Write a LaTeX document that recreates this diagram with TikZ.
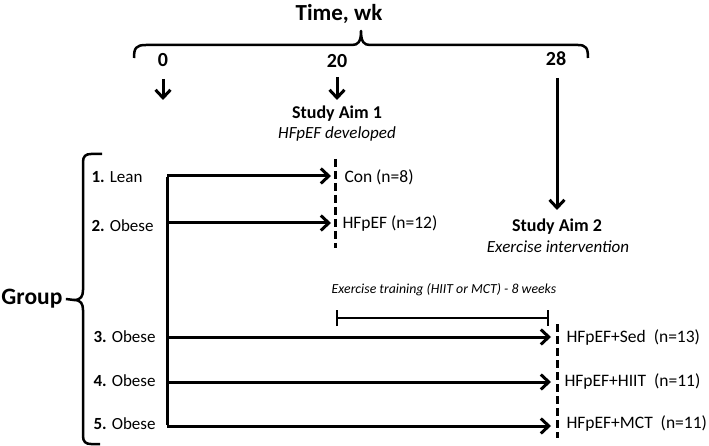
\documentclass[tikz,border=0pt]{standalone}
\usepackage{fontspec}
\setmainfont{Carlito}
\usetikzlibrary{arrows.meta}
\begin{document}
\begin{tikzpicture}[x=1pt,y=-1pt,
  line width=3pt,
  arr/.style={line width=3pt,-{Straight Barb[length=8pt,width=15pt,line width=3pt]}},
  lbl/.style={anchor=west,inner sep=0pt,font=\fontsize{17}{19}\selectfont},
  rlbl/.style={anchor=west,inner sep=0pt,font=\fontsize{17.5}{19}\selectfont},
  num/.style={inner sep=0pt,font=\bfseries\fontsize{20}{22}\selectfont},
  aim/.style={inner sep=0pt,font=\bfseries\fontsize{18}{20}\selectfont},
  aimi/.style={inner sep=0pt,font=\itshape\fontsize{17}{19}\selectfont},
  brace/.style={line width=2.5pt,line join=round},
  dline/.style={dashed,dash pattern=on 8pt off 4pt,line width=3pt}]
\useasboundingbox (0,0) rectangle (709,446);
% title and top brace
\node[inner sep=0pt,font=\bfseries\fontsize{23}{25}\selectfont] (title) at (339,14) {Time, wk};
\draw[brace] (134,58) .. controls (134,48) and (136,45) .. (146,45)
  -- (352,45) .. controls (358,45) and (361,42) .. (361,31)
  .. controls (361,42) and (364,45) .. (370,45) -- (578,45)
  .. controls (586,45) and (588,48) .. (588,58);
\node[num] (t0) at (163,60) {0};
\node[num] (t20) at (337,61) {20};
\node[num] (t28) at (556,59) {28};
\coordinate (a0s) at (163,79); \coordinate (a0e) at (163,100);
\coordinate (a20s) at (337,77); \coordinate (a20e) at (337,100);
\coordinate (a28s) at (557,78); \coordinate (a28e) at (557,210);
\draw[arr] (a0s) -- (a0e);
\draw[arr] (a20s) -- (a20e);
\draw[arr] (a28s) -- (a28e);
\node[aim] (aim1) at (337,114) {Study Aim 1};
\node[aimi] (aim1b) at (337,134) {HFpEF developed};
\node[aim] (aim2) at (557,227) {Study Aim 2};
\node[aimi] (aim2b) at (558,247) {Exercise intervention};
% Group brace
\node[anchor=west,inner sep=0pt,font=\bfseries\fontsize{23.5}{25}\selectfont] (group) at (0,299) {Group};
\draw[brace] (102,154) -- (91,154) .. controls (86,154) and (83,156) .. (83,162)
  -- (83,290) .. controls (83,296) and (81,300) .. (74,300)
  .. controls (81,300) and (83,304) .. (83,310)
  -- (83,436) .. controls (83,442) and (86,444) .. (91,444) -- (100,444);
\draw[brace] (group.east) ++(2pt,0) -- (74,300);
% group labels
\node[lbl] (g1) at (90,177) {\textbf{1.} Lean};
\node[lbl] (g2) at (90,226) {\textbf{2.} Obese};
\node[lbl] (g3) at (92,337) {\textbf{3.} Obese};
\node[lbl] (g4) at (92,381) {\textbf{4.} Obese};
\node[lbl] (g5) at (92,424) {\textbf{5.} Obese};
% trunk and branches
\coordinate (top) at (167,176);
\coordinate (bot) at (167,426);
\coordinate (e1) at (331,176);
\coordinate (e2) at (331,223);
\coordinate (b2) at (167,223);
\coordinate (b3) at (167,337);
\coordinate (b4) at (167,382);
\coordinate (e3) at (551,337);
\coordinate (e4) at (551,382);
\coordinate (e5) at (551,426);
\draw[line width=3pt] ([yshift=-1.5pt]top) -- ([yshift=1.5pt]bot);
\draw[arr] (top) -- (e1);
\draw[arr] (b2) -- (e2);
\draw[arr] (b3) -- (e3);
\draw[arr] (b4) -- (e4);
\draw[arr] (bot) -- (e5);
% dashed lines
\coordinate (d1t) at (335,159); \coordinate (d1b) at (335,248);
\coordinate (d2t) at (557,324); \coordinate (d2b) at (557,438);
\draw[dline] (d1t) -- (d1b);
\draw[dline] (d2t) -- (d2b);
% outcome labels
\node[rlbl] (o1) at (343,177) {Con (n=8)};
\node[rlbl] (o2) at (341,224) {HFpEF (n=12)};
\node[rlbl] (o3) at (565,338) {HFpEF+Sed\ \ (n=13)};
\node[rlbl] (o4) at (563,382) {HFpEF+HIIT\ \ (n=11)};
\node[rlbl] (o5) at (565,424) {HFpEF+MCT\ \ (n=11)};
% exercise bar
\coordinate (xl) at (336,318); \coordinate (xr) at (549,318);
\draw[line width=2.2pt,{Bar[width=16pt,line width=2.2pt]}-{Bar[width=16pt,line width=2.2pt]}] (xl) -- (xr);
\node[inner sep=0pt,font=\itshape\fontsize{13.8}{15}\selectfont] (ex) at (444,290) {Exercise training (HIIT or MCT) - 8 weeks};
\end{tikzpicture}
\end{document}
